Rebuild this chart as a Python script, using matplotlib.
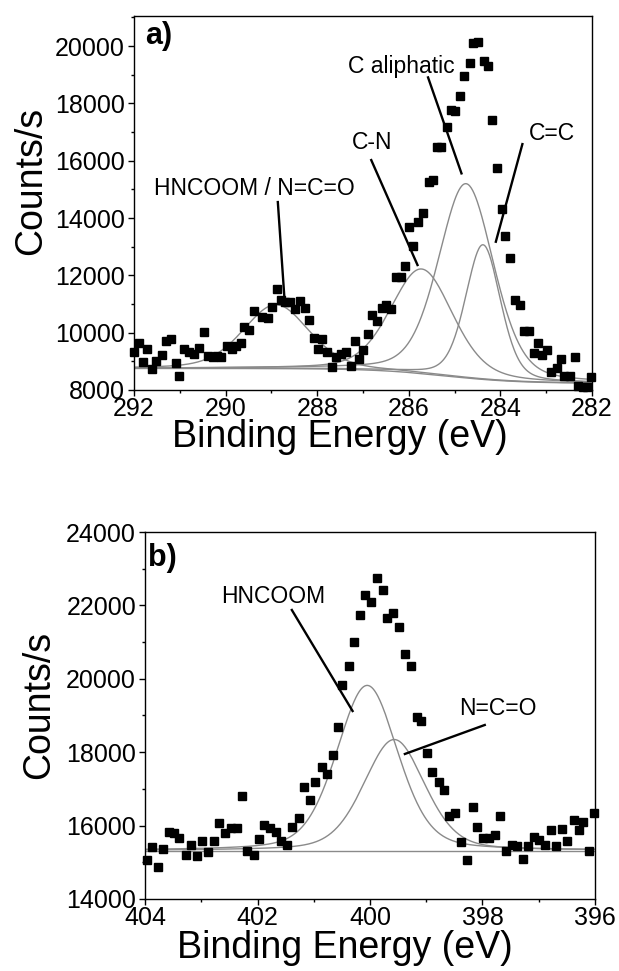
import numpy as np
import matplotlib
matplotlib.use("Agg")
import matplotlib.pyplot as plt
from matplotlib.ticker import MultipleLocator

plt.rcParams["font.family"] = ["Liberation Sans", "DejaVu Sans"]

# --- C 1s spectrum (panel a) : measured points ---
be_c1s = [292.00, 291.89, 291.80, 291.71, 291.60, 291.51, 291.39, 291.30, 291.19, 291.08,
          291.01, 290.90, 290.79, 290.70, 290.59, 290.48, 290.39, 290.28, 290.18, 290.09,
          289.98, 289.87, 289.78, 289.67, 289.59, 289.48, 289.37, 289.21, 289.08, 288.98,
          288.87, 288.80, 288.70, 288.59, 288.48, 288.38, 288.27, 288.18, 288.07, 287.98,
          287.89, 287.78, 287.67, 287.60, 287.49, 287.38, 287.27, 287.18, 287.09, 287.00,
          286.89, 286.80, 286.69, 286.58, 286.49, 286.38, 286.27, 286.18, 286.09, 285.99,
          285.90, 285.80, 285.68, 285.57, 285.48, 285.39, 285.30, 285.17, 285.08, 284.99,
          284.88, 284.79, 284.67, 284.60, 284.50, 284.35, 284.27, 284.18, 284.07, 283.96,
          283.89, 283.78, 283.69, 283.58, 283.49, 283.38, 283.27, 283.18, 283.09, 282.98,
          282.89, 282.77, 282.67, 282.61, 282.48, 282.37, 282.30, 282.20, 282.12, 282.03]
cps_c1s = [9314, 9628, 8988, 9430, 8733, 9023, 9221, 9721, 9779, 8942,
           8477, 9430, 9314, 9256, 9453, 10012, 9198, 9140, 9200, 9163,
           9547, 9430, 9547, 9640, 10186, 10093, 10767, 10535, 10512, 10884,
           11523, 11140, 11058, 11081, 10826, 11116, 10860, 10453, 9814, 9430,
           9779, 9314, 8814, 9140, 9256, 9314, 8849, 9721, 9081, 9407,
           9953, 10628, 10395, 10860, 10977, 10826, 11953, 11953, 12337, 13674,
           13035, 13849, 14163, 15267, 15326, 16465, 16465, 17186, 17767, 17744,
           18267, 18965, 19395, 20093, 20151, 19488, 19314, 17419, 15733, 14314,
           13384, 12593, 11151, 10977, 10047, 10047, 9279, 9628, 9221, 9395,
           8616, 8767, 9081, 8500, 8477, 9163, 8151, 8100, 8100, 8450]

# fitted components C 1s : centre (eV), height (cps), FWHM (eV)
c1s_names   = ["HNCOOM / N=C=O", "C-N", "C aliphatic", "C=C"]
c1s_centres = [288.90, 285.72, 284.75, 284.38]
c1s_heights = [2230, 3650, 6780, 4700]
c1s_fwhm    = [1.70, 1.60, 1.42, 0.90]
# Shirley-like step background : low side, high side, step centre, step width
c1s_bg = [8230, 8750, 285.2, 0.8]

# --- N 1s spectrum (panel b) ---
be_n1s = [403.97, 403.88, 403.77, 403.68, 403.58, 403.49, 403.39, 403.28, 403.18, 403.08,
          402.98, 402.88, 402.77, 402.68, 402.58, 402.47, 402.37, 402.27, 402.18, 402.07,
          401.97, 401.88, 401.78, 401.67, 401.58, 401.48, 401.38, 401.27, 401.17, 401.07,
          400.97, 400.86, 400.76, 400.66, 400.57, 400.49, 400.37, 400.28, 400.18, 400.09,
          399.98, 399.88, 399.77, 399.69, 399.59, 399.48, 399.38, 399.28, 399.17, 399.09,
          398.98, 398.89, 398.78, 398.68, 398.59, 398.48, 398.39, 398.28, 398.17, 398.09,
          397.99, 397.88, 397.78, 397.68, 397.59, 397.48, 397.38, 397.28, 397.19, 397.09,
          396.99, 396.88, 396.78, 396.69, 396.59, 396.49, 396.38, 396.28, 396.21, 396.10,
          396.02]
cps_n1s = [15064, 15427, 14864, 15364, 15818, 15791, 15664, 15209, 15482, 15164,
           15591, 15291, 15591, 16064, 15791, 15936, 15936, 16818, 15300, 15200,
           15636, 16027, 15927, 15836, 15573, 15482, 15955, 16200, 17045, 16709,
           17182, 17609, 17409, 17936, 18691, 19831, 20357, 20995, 21738, 22283,
           22101, 22738, 22420, 21665, 21801, 21420, 20676, 20349, 18967, 18858,
           17986, 17473, 17200, 16973, 16273, 16336, 15564, 15064, 16518, 15973,
           15655, 15655, 15755, 16255, 15318, 15473, 15436, 15091, 15455, 15700,
           15618, 15473, 15891, 15455, 15909, 15573, 16155, 15882, 16091, 15300,
           16350]

n1s_names   = ["HNCOOM", "N=C=O"]
n1s_centres = [400.05, 399.57]
n1s_heights = [4500, 3025]
n1s_fwhm    = [1.28, 1.28]
n1s_bg = 15320

GL_MIX = 0.3   # lorentzian fraction of the pseudo-Voigt


def pseudo_voigt(x, c, h, w, eta=GL_MIX):
    u = (x - c) / w
    g = np.exp(-4 * np.log(2) * u ** 2)
    lor = 1.0 / (1.0 + 4 * u ** 2)
    return h * ((1 - eta) * g + eta * lor)


def style_axes(ax):
    for sp in ax.spines.values():
        sp.set_linewidth(1.0)
    ax.tick_params(which="both", direction="out", top=False, right=False, labelsize=18)
    ax.tick_params(axis="x", pad=0.5)
    ax.tick_params(axis="y", pad=2)
    ax.tick_params(which="major", length=4.5, width=1.0)
    ax.tick_params(which="minor", length=2.5, width=1.0)


LINE_GREY = "#8a8a8a"
LABEL_FS = 27
fig = plt.figure(figsize=(6.19, 9.71), dpi=100)

# ---------------- panel a ----------------
ax1 = fig.add_axes([0.2165, 0.5984, 0.7399, 0.3851])
xa = np.linspace(282, 292, 600)
lo, hi, cen, wid = c1s_bg
bg_a = lo + (hi - lo) / (1 + np.exp(-(xa - cen) / wid))
ax1.plot(xa, bg_a, color=LINE_GREY, lw=1.0)
for c, h, w in zip(c1s_centres, c1s_heights, c1s_fwhm):
    ax1.plot(xa, bg_a + pseudo_voigt(xa, c, h, w), color=LINE_GREY, lw=1.0)
ax1.plot(be_c1s, cps_c1s, ls="none", marker="s", ms=5.5, color="black", clip_on=False)

ax1.set_xlim(292, 282)
ax1.set_ylim(8000, 21050)
ax1.xaxis.set_major_locator(MultipleLocator(2))
ax1.xaxis.set_minor_locator(MultipleLocator(1))
ax1.yaxis.set_major_locator(MultipleLocator(2000))
ax1.yaxis.set_minor_locator(MultipleLocator(1000))
style_axes(ax1)
ax1.set_xlabel("Binding Energy (eV)", fontsize=LABEL_FS, va="center")
ax1.xaxis.set_label_coords(0.45, -0.127)
ax1.set_ylabel("Counts/s", fontsize=LABEL_FS, va="center")
ax1.yaxis.set_label_coords(-0.225, 0.56)

ax1.text(291.76, 20347, "a)", fontsize=22, fontweight="bold", ha="left", va="center")
# labels : text position, then line start -> line end
ann_a = [
    ("HNCOOM / N=C=O", 289.37, 15045, 288.86, 14557, 288.71, 11070),
    ("C-N",            286.81, 16633, 286.82, 16022, 285.81, 12360),
    ("C aliphatic",    286.17, 19301, 285.58, 18907, 284.85, 15558),
    ("C=C",            282.88, 16964, 283.52, 16580, 284.10, 13173),
]
for txt, tx, ty, x0, y0, x1, y1 in ann_a:
    ax1.text(tx, ty, txt, fontsize=16.5, ha="center", va="center")
    ax1.plot([x0, x1], [y0, y1], color="black", lw=1.7)

# ---------------- panel b ----------------
ax2 = fig.add_axes([0.2343, 0.0742, 0.7269, 0.3779])
xb = np.linspace(396, 404, 600)
ax2.plot(xb, np.full_like(xb, n1s_bg), color=LINE_GREY, lw=1.0)
for c, h, w in zip(n1s_centres, n1s_heights, n1s_fwhm):
    ax2.plot(xb, n1s_bg + pseudo_voigt(xb, c, h, w), color=LINE_GREY, lw=1.0)
ax2.plot(be_n1s, cps_n1s, ls="none", marker="s", ms=5.5, color="black", clip_on=False)

ax2.set_xlim(404, 396)
ax2.set_ylim(14000, 24000)
ax2.xaxis.set_major_locator(MultipleLocator(2))
ax2.xaxis.set_minor_locator(MultipleLocator(1))
ax2.yaxis.set_major_locator(MultipleLocator(2000))
ax2.yaxis.set_minor_locator(MultipleLocator(1000))
style_axes(ax2)
ax2.set_xlabel("Binding Energy (eV)", fontsize=LABEL_FS, va="center")
ax2.xaxis.set_label_coords(0.444, -0.135)
ax2.set_ylabel("Counts/s", fontsize=LABEL_FS, va="center")
ax2.yaxis.set_label_coords(-0.235, 0.53)

ax2.text(403.95, 23292, "b)", fontsize=22, fontweight="bold", ha="left", va="center")
ann_b = [
    ("HNCOOM", 401.72, 22229, 401.39, 21875, 400.31, 19122),
    ("N=C=O",  397.72, 19177, 397.96, 18741, 399.38, 17951),
]
for txt, tx, ty, x0, y0, x1, y1 in ann_b:
    ax2.text(tx, ty, txt, fontsize=16.5, ha="center", va="center")
    ax2.plot([x0, x1], [y0, y1], color="black", lw=1.7)

fig.savefig("out.png", dpi=100)
